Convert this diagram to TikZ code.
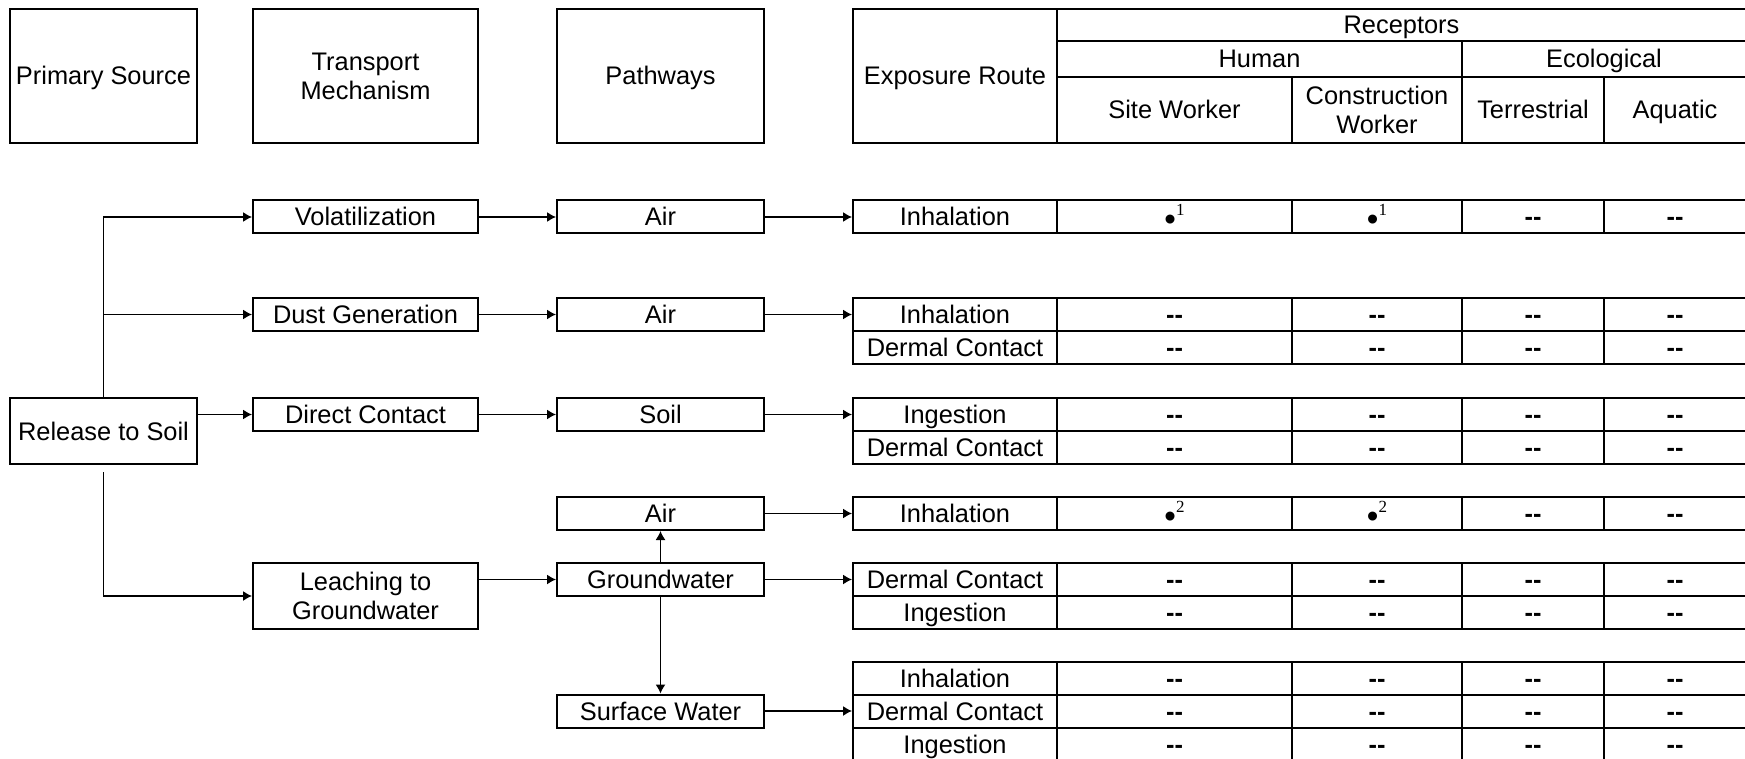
\documentclass[tikz,border=0pt]{standalone}
\usepackage{fontspec}
\setmainfont{Liberation Sans}
\newfontfamily\supfont{Liberation Serif}
\usepackage{tikz}
\usetikzlibrary{arrows.meta}
\newcommand{\hit}[1]{\raisebox{-2.5pt}{\fontsize{16.5}{16.5}\selectfont\textbullet}\raisebox{5pt}{\fontsize{8.5}{8.5}\selectfont\supfont #1}}
\newcommand{\nil}{\bfseries -{}-}

\begin{document}
\begin{tikzpicture}[x=0.5pt, y=-0.5pt,
    box/.style={draw, line width=1pt, inner sep=0pt, align=center,
        font=\fontsize{12.7}{14.5}\selectfont, minimum height=16.5pt},
    oneline/.style={text height=9pt, text depth=0pt},
    flow/.style={line width=0.65pt, -{Latex[length=4.5pt, width=5pt]}}]
    \useasboundingbox (0, 0) rectangle (1745, 759);
    \clip (0, 0) rectangle (1745, 759);

    % headings
    \node[box, oneline, minimum width=93.5pt, minimum height=67pt] (hsrc) at (103.5, 76) {Primary Source};
    \node[box, minimum width=112.5pt, minimum height=67pt] (htrn) at (365.5, 76) {Transport\\Mechanism};
    \node[box, oneline, minimum width=103.5pt, minimum height=67pt] (hpth) at (660.5, 76) {Pathways};
    \node[box, oneline, minimum width=102pt, minimum height=67pt] (hexp) at (955, 76) {Exposure Route};
    \node[box, oneline, minimum width=344.5pt, minimum height=16pt] (hrec) at (1401.5, 25) {Receptors};
    \node[box, oneline, minimum width=202.5pt, minimum height=18pt] (hhum) at (1259.5, 59) {Human};
    \node[box, oneline, minimum width=142pt, minimum height=18pt] (heco) at (1604, 59) {Ecological};
    \node[box, oneline, minimum width=117.5pt, minimum height=33pt] (hsw) at (1174.5, 110) {Site Worker};
    \node[box, minimum width=85pt, minimum height=33pt] (hcw) at (1377, 110) {Construction\\Worker};
    \node[box, oneline, minimum width=71pt, minimum height=33pt] (hter) at (1533, 110) {Terrestrial};
    \node[box, oneline, minimum width=71pt, minimum height=33pt] (haq) at (1675, 110) {Aquatic};

    % source and transport
    \node[box, oneline, minimum width=93.5pt, minimum height=33pt] (rel) at (103.5, 431) {Release to Soil};
    \node[box, oneline, minimum width=112.5pt] (vol) at (365.5, 217) {Volatilization};
    \node[box, oneline, minimum width=112.5pt] (dust) at (365.5, 314.5) {Dust Generation};
    \node[box, oneline, minimum width=112.5pt] (dir) at (365.5, 414.5) {Direct Contact};
    \node[box, minimum width=112.5pt, minimum height=33pt] (leach) at (365.5, 596) {Leaching to\\Groundwater};

    % pathways
    \node[box, oneline, minimum width=103.5pt] (air1) at (660.5, 217) {Air};
    \node[box, oneline, minimum width=103.5pt] (air2) at (660.5, 314.5) {Air};
    \node[box, oneline, minimum width=103.5pt] (soil) at (660.5, 414.5) {Soil};
    \node[box, oneline, minimum width=103.5pt] (air4) at (660.5, 513.5) {Air};
    \node[box, oneline, minimum width=103.5pt] (gw) at (660.5, 579.5) {Groundwater};
    \node[box, oneline, minimum width=103.5pt] (sfw) at (660.5, 711) {Surface Water};

    % exposure routes and receptors
    \foreach \id/\yc/\route/\cA/\cB/\cC/\cD in {
        e1/217/Inhalation/\hit{1}/\hit{1}/\nil/\nil,
        e2a/314.5/Inhalation/\nil/\nil/\nil/\nil,
        e2b/347.5/Dermal Contact/\nil/\nil/\nil/\nil,
        e3a/414.5/Ingestion/\nil/\nil/\nil/\nil,
        e3b/447.5/Dermal Contact/\nil/\nil/\nil/\nil,
        e4/513.5/Inhalation/\hit{2}/\hit{2}/\nil/\nil,
        e5a/579.5/Dermal Contact/\nil/\nil/\nil/\nil,
        e5b/612.5/Ingestion/\nil/\nil/\nil/\nil,
        e6a/678/Inhalation/\nil/\nil/\nil/\nil,
        e6b/711/Dermal Contact/\nil/\nil/\nil/\nil,
        e6c/744/Ingestion/\nil/\nil/\nil/\nil} {
        \node[box, oneline, minimum width=102pt] (\id) at (955, \yc) {\route};
        \node[box, oneline, minimum width=117.5pt] (\id-sw) at (1174.5, \yc) {\cA};
        \node[box, oneline, minimum width=85pt] (\id-cw) at (1377, \yc) {\cB};
        \node[box, oneline, minimum width=71pt] (\id-ter) at (1533, \yc) {\cC};
        \node[box, oneline, minimum width=71pt] (\id-aq) at (1675, \yc) {\cD};
    }

    % connectors
    \draw[flow] (rel.north) |- (vol.west);
    \draw[flow] (rel.north |- dust.west) -- (dust.west);
    \draw[flow] (rel.east |- dir.west) -- (dir.west);
    \draw[flow] ([yshift=-3.5pt]rel.south) |- (leach.west);

    \draw[flow] (vol) -- (air1);
    \draw[flow] (dust) -- (air2);
    \draw[flow] (dir) -- (soil);
    \draw[flow] (leach.east |- gw.west) -- (gw.west);
    \draw[flow] (gw) -- (air4);
    \draw[flow] (gw) -- (sfw);

    \draw[flow] (air1) -- (e1);
    \draw[flow] (air2) -- (e2a);
    \draw[flow] (soil) -- (e3a);
    \draw[flow] (air4) -- (e4);
    \draw[flow] (gw) -- (e5a);
    \draw[flow] (sfw) -- (e6b);
\end{tikzpicture}
\end{document}
